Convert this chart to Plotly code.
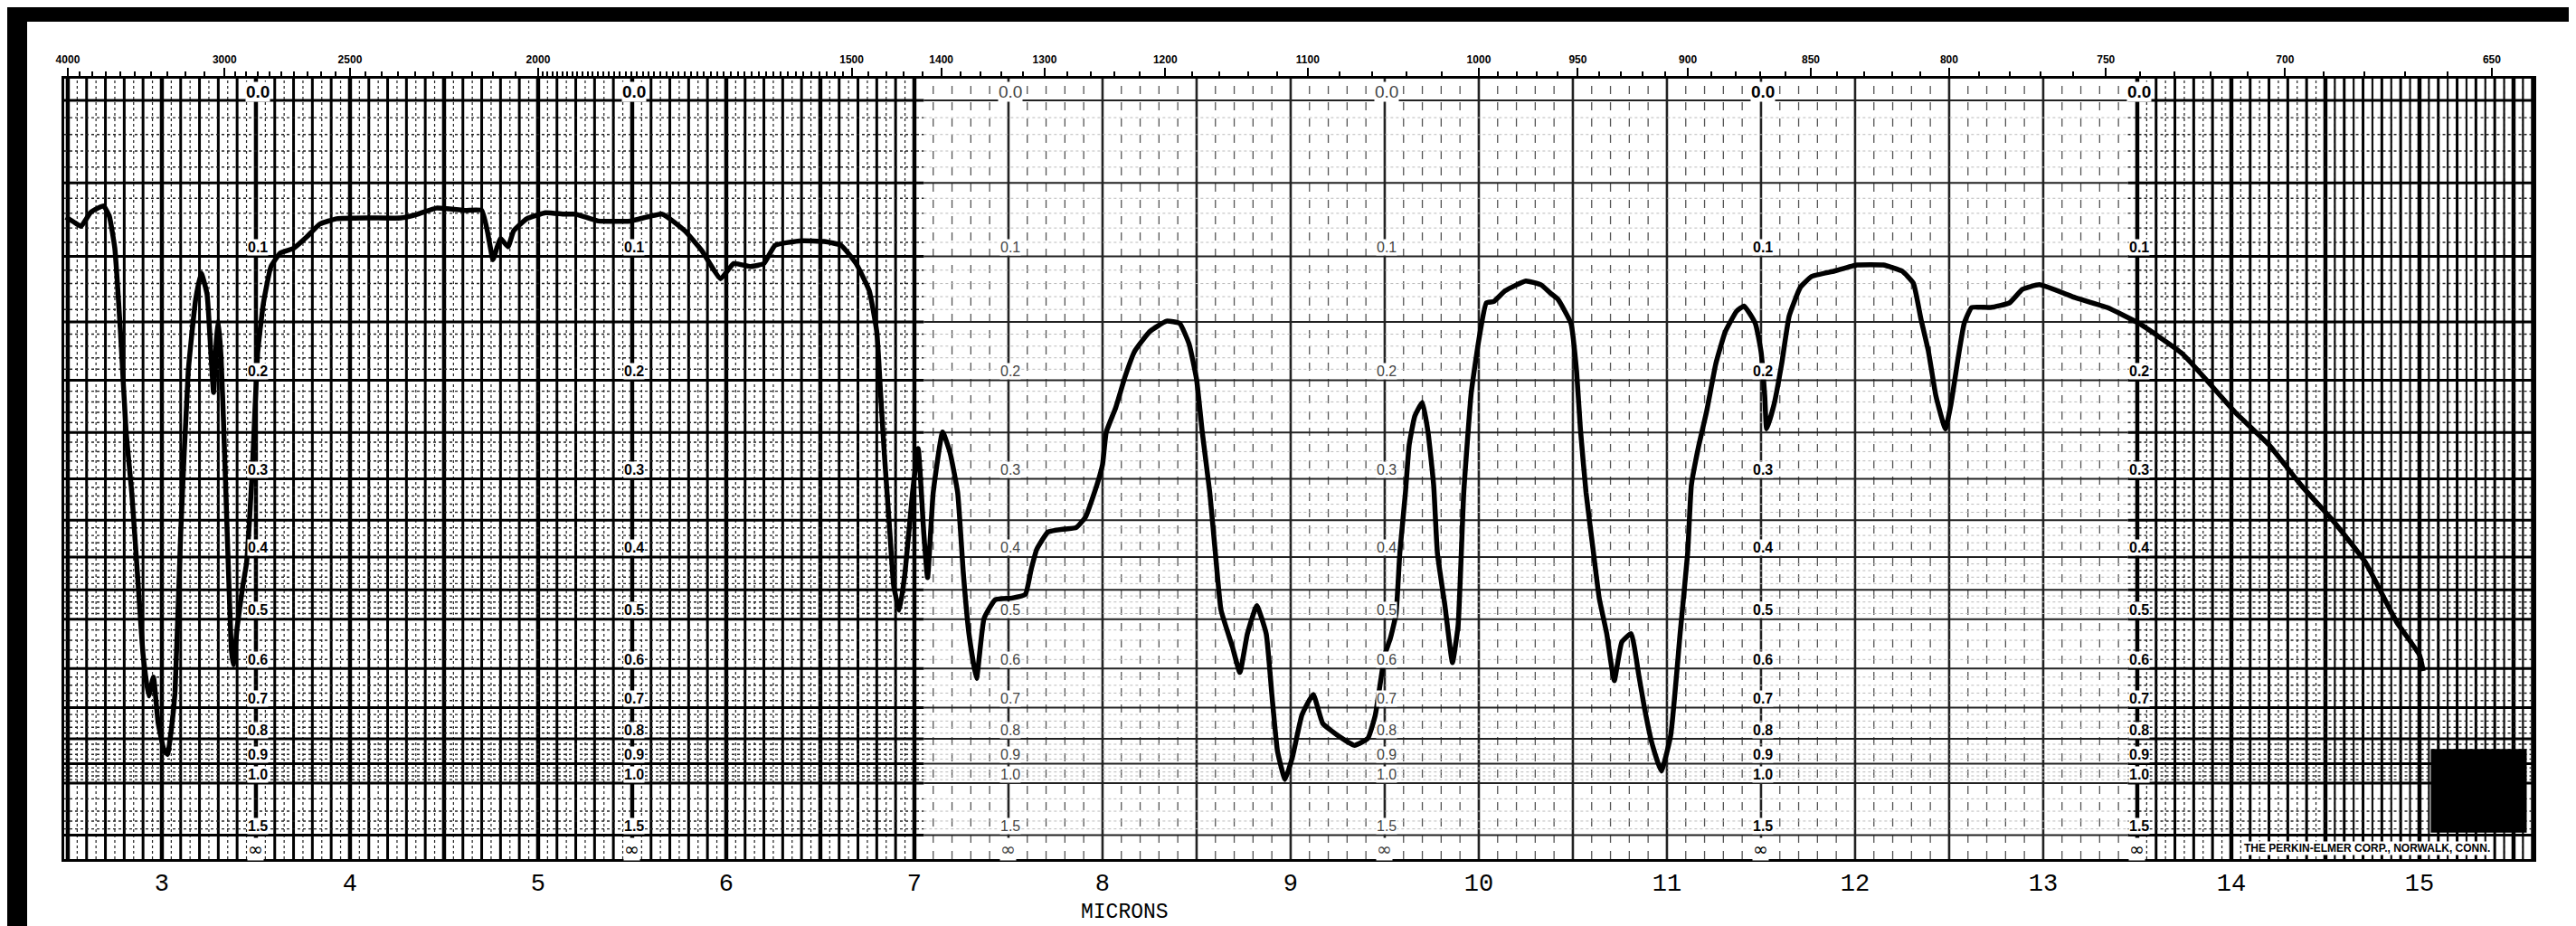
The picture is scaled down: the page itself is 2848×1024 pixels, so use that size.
import numpy as np
import plotly.graph_objects as go

# ---------------- data ----------------
wavelength_um = [
    2.49, 2.53, 2.57, 2.62, 2.66, 2.69, 2.72, 2.75, 2.78, 2.81, 2.84, 2.87, 2.90, 2.93, 2.955,
    2.98, 3.01, 3.03, 3.05, 3.07, 3.10, 3.14, 3.18, 3.21, 3.24, 3.26, 3.275, 3.29, 3.30, 3.315,
    3.33, 3.35, 3.37, 3.38, 3.40, 3.43, 3.45, 3.48, 3.51, 3.54, 3.58, 3.63, 3.70, 3.77, 3.84,
    3.93, 4.10, 4.27, 4.36, 4.46, 4.61, 4.70, 4.73, 4.76, 4.78, 4.80, 4.84, 4.87, 4.94, 5.04,
    5.14, 5.20, 5.32, 5.49, 5.66, 5.78, 5.87, 5.97, 6.04, 6.13, 6.20, 6.26, 6.40, 6.52, 6.61,
    6.69, 6.76, 6.80, 6.82, 6.84, 6.87, 6.89, 6.92, 6.95, 6.99, 7.02, 7.05, 7.07, 7.10, 7.15,
    7.19, 7.23, 7.26, 7.29, 7.33, 7.37, 7.43, 7.52, 7.59, 7.62, 7.65, 7.71, 7.80, 7.86, 7.91,
    7.97, 8.00, 8.02, 8.07, 8.12, 8.17, 8.25, 8.34, 8.41, 8.46, 8.50, 8.53, 8.57, 8.60, 8.63,
    8.69, 8.73, 8.77, 8.82, 8.87, 8.90, 8.93, 8.97, 9.01, 9.06, 9.12, 9.17, 9.25, 9.34, 9.41,
    9.45, 9.48, 9.50, 9.53, 9.56, 9.58, 9.61, 9.63, 9.66, 9.70, 9.73, 9.76, 9.78, 9.82, 9.86,
    9.89, 9.92, 9.96, 10.00, 10.04, 10.08, 10.14, 10.25, 10.33, 10.38, 10.42, 10.49, 10.52, 10.54, 10.57,
    10.61, 10.64, 10.68, 10.72, 10.76, 10.81, 10.85, 10.88, 10.92, 10.97, 11.02, 11.07, 11.11, 11.13, 11.17,
    11.21, 11.26, 11.31, 11.37, 11.41, 11.47, 11.50, 11.52, 11.53, 11.57, 11.61, 11.65, 11.71, 11.77, 11.89,
    12.01, 12.15, 12.25, 12.31, 12.35, 12.39, 12.43, 12.48, 12.51, 12.55, 12.58, 12.62, 12.72, 12.82, 12.89,
    12.98, 13.17, 13.34, 13.51, 13.74, 14.02, 14.20, 14.37, 14.54, 14.71, 14.88, 15.00, 15.02,
]
transmittance_pct = [
    84.6, 84.0, 83.4, 85.2, 85.8, 86.1, 84.8, 80.5, 69.5, 56.3, 48.3, 37.7, 27.0, 21.5, 24.0,
    18.0, 14.5, 13.8, 17.0, 22.0, 42.9, 64.2, 73.8, 77.2, 74.5, 67.0, 61.5, 68.5, 71.0, 66.0,
    56.0, 41.0, 27.5, 25.6, 30.5, 36.0, 39.0, 50.9, 66.9, 73.3, 78.1, 79.9, 80.5, 82.0, 83.7,
    84.4, 84.5, 84.5, 85.0, 85.8, 85.5, 85.5, 82.8, 79.0, 80.5, 81.8, 80.7, 82.8, 84.4, 85.2,
    85.0, 85.0, 84.1, 84.1, 85.0, 82.8, 80.2, 76.5, 78.5, 78.1, 78.5, 80.9, 81.5, 81.4, 80.9,
    78.5, 74.9, 69.5, 61.5, 53.5, 42.9, 36.0, 32.8, 37.7, 48.3, 54.1, 42.9, 37.1, 48.3, 56.3,
    53.5, 48.3, 37.7, 29.7, 23.8, 31.7, 34.2, 34.4, 34.9, 38.1, 40.8, 43.1, 43.5, 43.7, 45.1,
    49.3, 52.0, 56.3, 59.5, 63.6, 66.9, 69.5, 70.9, 70.6, 67.9, 63.2, 56.3, 48.3, 40.3, 32.8,
    28.0, 24.6, 29.7, 33.4, 29.7, 21.7, 14.2, 10.5, 13.5, 19.0, 21.7, 17.9, 16.3, 15.0, 15.9,
    19.0, 23.8, 26.9, 29.1, 32.3, 40.3, 48.3, 54.6, 58.4, 60.2, 56.3, 49.3, 40.3, 33.4, 25.9,
    30.8, 48.3, 61.5, 68.4, 73.3, 73.5, 74.9, 76.2, 75.7, 74.6, 73.8, 70.6, 64.2, 56.7, 48.3,
    40.3, 34.4, 29.7, 23.5, 28.6, 29.7, 24.3, 20.0, 15.3, 11.6, 16.3, 29.7, 40.3, 49.3, 54.6,
    58.9, 65.3, 69.5, 72.2, 72.9, 70.6, 66.9, 61.0, 56.7, 60.0, 65.3, 71.6, 75.4, 76.8, 77.5,
    78.3, 78.3, 77.5, 75.9, 71.2, 66.9, 61.0, 56.7, 60.0, 66.4, 70.6, 72.7, 72.7, 73.3, 75.1,
    75.7, 74.0, 72.7, 70.6, 66.6, 58.9, 54.6, 49.3, 44.6, 39.2, 31.2, 26.9, 24.8,
]

micron_ticks = [3, 4, 5, 6, 7, 8, 9, 10, 11, 12, 13, 14, 15]
wavenumber_labels = [4000, 3000, 2500, 2000, 1500, 1400, 1300, 1200, 1100, 1000,
                     950, 900, 850, 800, 750, 700, 650]
absorbance_levels = [0.0, 0.1, 0.2, 0.3, 0.4, 0.5, 0.6, 0.7, 0.8, 0.9, 1.0, 1.5]
absorbance_text = ["0.0", "0.1", "0.2", "0.3", "0.4", "0.5", "0.6", "0.7", "0.8", "0.9", "1.0", "1.5"]
label_columns_um = [3.5, 5.5, 7.5, 9.5, 11.5, 13.5]

# ---------------- frame geometry ----------------
W, H = 2848, 1024
ML, MR, MT, MB = 63, 55, 79, 82
PW, PH = W - ML - MR, H - MT - MB
X_RANGE = [2.481, 15.606]
Y_TOP = 102.86
Y_RANGE = [0, Y_TOP]
DARK_L, DARK_R = 7.05, 13.45


def a_to_t(a):
    return 100.0 * 10 ** (-a)


fig = go.Figure()


def add_vlines(xs, width, color, dash="solid"):
    xx, yy = [], []
    for x in xs:
        xx += [x, x, None]
        yy += [0, Y_TOP, None]
    fig.add_trace(go.Scatter(x=xx, y=yy, mode="lines", hoverinfo="skip", showlegend=False,
                             line=dict(color=color, width=width, dash=dash)))


def add_hlines(ts, width, color, dash="solid", spans=((X_RANGE[0], X_RANGE[1]),)):
    xx, yy = [], []
    for t in ts:
        for x0, x1 in spans:
            xx += [x0, x1, None]
            yy += [t, t, None]
    fig.add_trace(go.Scatter(x=xx, y=yy, mode="lines", hoverinfo="skip", showlegend=False,
                             line=dict(color=color, width=width, dash=dash)))


# vertical grid (0.1 micron)
vx = np.round(np.arange(2.5, 15.61, 0.1), 2)
is_half = np.isclose((vx * 2) % 1, 0) | np.isclose((vx * 2) % 1, 1)
dark = (vx < DARK_L) | (vx > DARK_R)
half_x = np.round(np.arange(2.55, 15.6, 0.1), 2)
add_vlines(half_x[(half_x < DARK_L) | (half_x > DARK_R)], 1.2, "#222", "dot")
add_vlines(vx[dark & ~is_half], 3.0, "#000")
add_vlines(vx[dark & is_half], 4.5, "#000")
add_vlines(vx[~dark & ~is_half], 1.3, "#555", "dash")
add_vlines(vx[~dark & is_half], 2.6, "#222")
add_vlines(half_x[half_x > 14.5], 2.2, "#111")

# horizontal grid (absorbance scale on linear transmittance)
major_a = [0.0, 0.05, 0.1, 0.15, 0.2, 0.25, 0.3, 0.35, 0.4, 0.45, 0.5,
           0.6, 0.7, 0.8, 0.9, 1.0, 1.5]
minor_a = [a for a in np.round(np.arange(0.01, 0.5, 0.01), 2) if round(a * 100) % 5 != 0]
minor_a += [a for a in np.round(np.arange(0.52, 1.0, 0.02), 2) if round(a * 100) % 10 != 0]
minor_a += [1.1, 1.2, 1.3, 1.4]
minor_t = [a_to_t(a) for a in minor_a]
add_hlines(minor_t, 1.0, "#bbb", "dot", spans=((DARK_L, DARK_R),))
add_hlines(minor_t, 1.4, "#222", "dot", spans=((X_RANGE[0], DARK_L), (DARK_R, X_RANGE[1])))
add_hlines([a_to_t(a) for a in major_a], 2.0, "#222", spans=((DARK_L, DARK_R),))
add_hlines([a_to_t(a) for a in major_a], 3.0, "#000",
           spans=((X_RANGE[0], DARK_L), (DARK_R, X_RANGE[1])))

# spectrum
fig.add_trace(go.Scatter(x=wavelength_um, y=transmittance_pct, mode="lines",
                         line=dict(color="#000", width=5.5, shape="spline", smoothing=0.4),
                         showlegend=False, hoverinfo="skip"))

# dummy trace to activate top wavenumber axis
fig.add_trace(go.Scatter(x=X_RANGE, y=[None, None], xaxis="x2", mode="lines",
                         showlegend=False, hoverinfo="skip"))

# top axis minor ticks (wavenumber)
wn_minor = list(range(4000, 3000, -100)) + list(range(3000, 2000, -50)) + \
    list(range(2000, 1500, -10)) + list(range(1500, 1000, -20)) + list(range(1000, 640, -10))
wn_minor = [w for w in wn_minor if w not in wavenumber_labels]

fig.update_layout(
    width=W, height=H,
    margin=dict(l=ML, r=MR, t=MT, b=MB),
    paper_bgcolor="white", plot_bgcolor="white",
    xaxis=dict(range=X_RANGE, tickvals=micron_ticks, ticktext=[str(m) for m in micron_ticks],
               ticks="", showgrid=False, zeroline=False, showline=True, linecolor="black",
               linewidth=3, ticklabelstandoff=0,
               tickfont=dict(family="Liberation Mono", size=27, color="black")),
    xaxis2=dict(range=X_RANGE, overlaying="x", side="top", anchor="y",
                tickvals=[1e4 / w for w in wavenumber_labels],
                ticktext=["<b>%d</b>" % w for w in wavenumber_labels],
                ticks="outside", ticklen=9, tickwidth=2, tickcolor="black",
                showgrid=False, zeroline=False, showline=True, linecolor="black", linewidth=3,
                tickfont=dict(family="Liberation Sans", size=12, color="black"),
                minor=dict(tickvals=[1e4 / w for w in wn_minor], ticks="outside",
                           ticklen=5, tickwidth=1.5, tickcolor="black", showgrid=False)),
    yaxis=dict(range=Y_RANGE, showticklabels=False, ticks="", showgrid=False, zeroline=False,
               showline=True, mirror=True, linecolor="black", linewidth=3),
)

annotations = []
for col in label_columns_um:
    light = 7 < col < 10
    color = "#444" if light else "#000"
    for a, txt in zip(absorbance_levels, absorbance_text):
        annotations.append(dict(x=col, y=a_to_t(a), xref="x", yref="y",
                                text=txt if light else "<b>" + txt + "</b>",
                                showarrow=False, yshift=10, xshift=2, bgcolor="white",
                                borderpad=0,
                                font=dict(family="Liberation Sans", size=16 if a > 0 else 19,
                                          color=color)))
    annotations.append(dict(x=col, y=0, xref="x", yref="y", text="∞", showarrow=False,
                            yshift=11, bgcolor="white", borderpad=0,
                            font=dict(family="DejaVu Sans", size=20, color=color)))

annotations.append(dict(x=8.12, y=0, xref="x", yref="paper", text="MICRONS", showarrow=False,
                        yanchor="middle", yshift=-59,
                        font=dict(family="Liberation Mono", size=23, color="black")))
annotations.append(dict(x=14.72, y=0, xref="x", yref="y", text="<b>THE PERKIN-ELMER CORP., NORWALK, CONN.</b>",
                        showarrow=False, yshift=12, bgcolor="white", borderpad=0,
                        font=dict(family="Liberation Sans", size=12, color="black")))
fig.update_layout(annotations=annotations)

# scan border and corner patch
shapes = [
    dict(type="rect", xref="paper", yref="paper", x0=-ML / PW, x1=(W - ML) / PW,
         y0=(PH + MT - 16) / PH, y1=(PH + MT) / PH, fillcolor="black", line=dict(width=0), layer="above"),
    dict(type="rect", xref="paper", yref="paper", x0=-ML / PW, x1=(22 - ML) / PW,
         y0=-MB / PH, y1=(PH + MT) / PH, fillcolor="black", line=dict(width=0), layer="above"),
    dict(type="rect", xref="x", yref="y", x0=15.06, x1=15.57, y0=3.5, y1=14.5,
         fillcolor="black", line=dict(width=0), layer="above"),
]
fig.update_layout(shapes=shapes)

fig.write_html("out.html")
